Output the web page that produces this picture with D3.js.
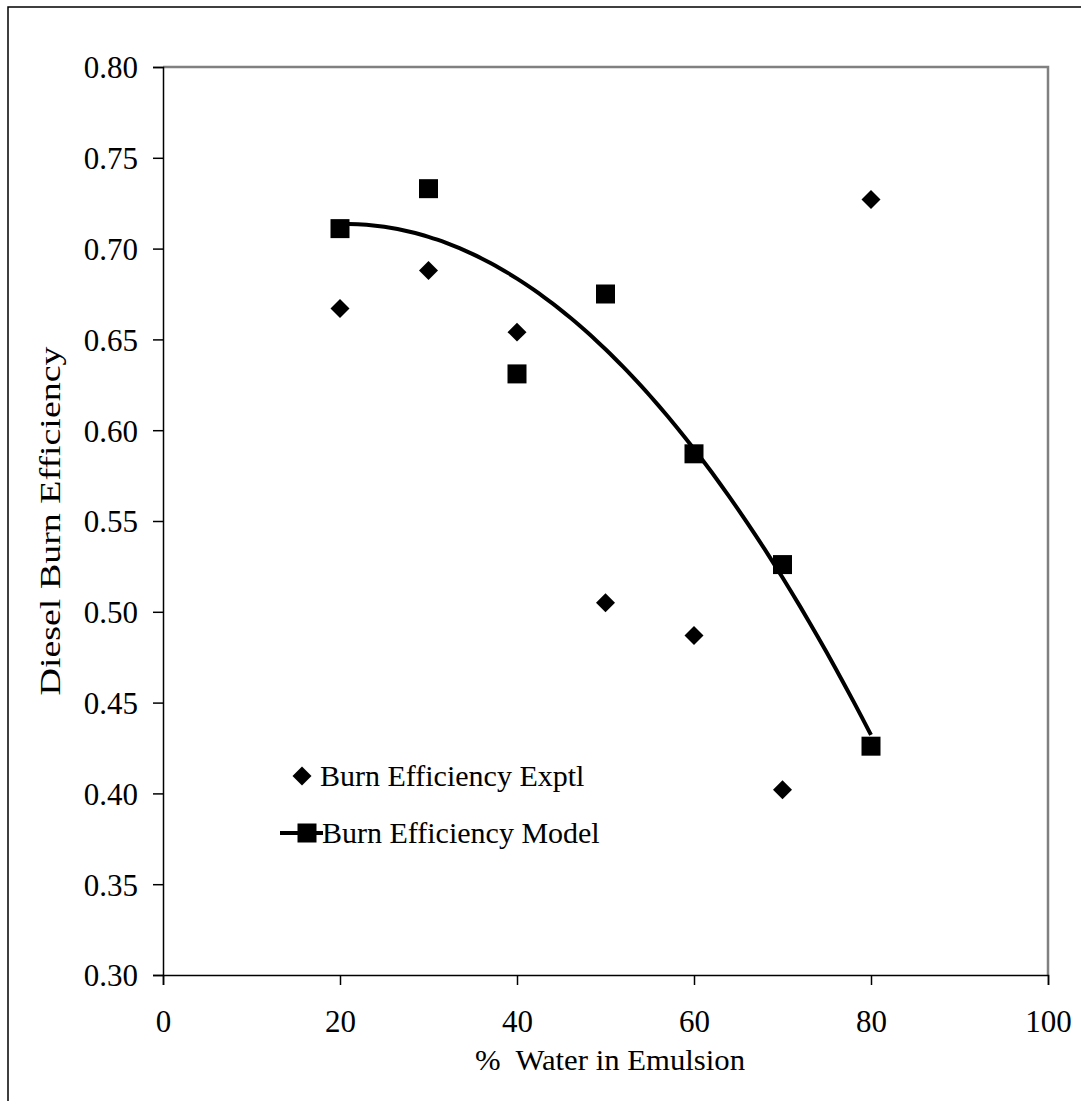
<!DOCTYPE html>
<html>
<head>
<meta charset="utf-8">
<script src="https://cdn.jsdelivr.net/npm/d3@7"></script>
<style>
  body { margin: 0; background: #fff; }
  text { font-family: "Liberation Serif", "Times New Roman", serif; fill: #000; }
</style>
</head>
<body>
<div id="chart"></div>
<script>
(function(){
    var width = 1081,
        height = 1101;

    // data
    var waterPct = [20, 30, 40, 50, 60, 70, 80];
    var exptl = [0.667, 0.688, 0.654, 0.505, 0.487, 0.402, 0.727];
    var model = [0.711, 0.733, 0.631, 0.675, 0.587, 0.526, 0.426];
    var xTicks = [0, 20, 40, 60, 80, 100];
    var yTicks = [0.30, 0.35, 0.40, 0.45, 0.50, 0.55, 0.60, 0.65, 0.70, 0.75, 0.80];
    var legendLabels = ["Burn Efficiency Exptl", "Burn Efficiency Model"];

    var left = 163, right = 1048, top = 67, bottom = 975;

    var svg = d3.select("#chart")
      .append("svg")
      .attr("width", width)
      .attr("height", height)

    // outer frame
    svg.append("rect")
      .attr("x", 8).attr("y", 7)
      .attr("width", 1090).attr("height", 1110)
      .attr("fill", "none")
      .attr("stroke", "#000")
      .attr("stroke-width", 1.5)

    var x = d3.scaleLinear().domain([0, 100]).range([left, right])
    var y = d3.scaleLinear().domain([0.30, 0.80]).range([bottom, top])

    // gray plot border (top + right)
    svg.append("path")
      .attr("d", "M" + left + "," + top + "H" + right + "V" + bottom)
      .attr("fill", "none")
      .attr("stroke", "#808080")
      .attr("stroke-width", 2.5)

    var yAxis = svg.append("g")
      .attr("transform", "translate(" + left + ",0)")
      .call(d3.axisLeft(y).tickValues(yTicks).tickSize(10).tickPadding(15).tickFormat(d3.format(".2f")))
    var xAxis = svg.append("g")
      .attr("transform", "translate(0," + bottom + ")")
      .call(d3.axisBottom(x).tickValues(xTicks).tickSize(10).tickPadding(25).tickFormat(d3.format("d")))

    svg.selectAll(".domain").attr("stroke", "#000").attr("stroke-width", 1.5)
    svg.selectAll(".tick line").attr("stroke", "#000").attr("stroke-width", 1.5)
    svg.selectAll(".tick text")
      .attr("font-family", "Liberation Serif")
      .attr("font-size", 31)
    yAxis.selectAll(".tick text").attr("dy", "0.35em")

    // axis titles
    svg.append("text")
      .attr("x", 610)
      .attr("y", 1070)
      .attr("text-anchor", "middle")
      .attr("font-size", 30)
      .attr("textLength", 270)
      .attr("lengthAdjust", "spacingAndGlyphs")
      .style("white-space", "pre")
      .text("%  Water in Emulsion")
    svg.append("text")
      .attr("transform", "translate(60," + (top + bottom) / 2 + ") rotate(-90)")
      .attr("text-anchor", "middle")
      .attr("font-size", 30)
      .attr("textLength", 349)
      .attr("lengthAdjust", "spacingAndGlyphs")
      .text("Diesel Burn Efficiency")

    // quadratic least-squares trendline through the model points
    function quadFit(xs, ys) {
      var n = xs.length, s = [0,0,0,0,0], t = [0,0,0]
      for (var i = 0; i < n; i++) {
        var p = 1
        for (var k = 0; k < 5; k++) { s[k] += p; if (k < 3) t[k] += p * ys[i]; p *= xs[i] }
      }
      var M = [[s[0], s[1], s[2], t[0]], [s[1], s[2], s[3], t[1]], [s[2], s[3], s[4], t[2]]]
      for (var c = 0; c < 3; c++) {
        for (var r = c + 1; r < 3; r++) {
          var f = M[r][c] / M[c][c]
          for (var j = c; j < 4; j++) M[r][j] -= f * M[c][j]
        }
      }
      var b = [0,0,0]
      for (var r2 = 2; r2 >= 0; r2--) {
        var v = M[r2][3]
        for (var j2 = r2 + 1; j2 < 3; j2++) v -= M[r2][j2] * b[j2]
        b[r2] = v / M[r2][r2]
      }
      return function(v){ return b[0] + b[1] * v + b[2] * v * v }
    }
    var fit = quadFit(waterPct, model)
    var curvePts = d3.range(waterPct[0], waterPct[waterPct.length - 1] + 0.01, 1)

    svg.append("path")
      .datum(curvePts)
      .attr("fill", "none")
      .attr("stroke", "#000")
      .attr("stroke-width", 4)
      .attr("d", d3.line()
        .x(function(d){ return x(d) })
        .y(function(d){ return y(fit(d)) })
        .curve(d3.curveBasis))

    var diamond = d3.symbol().type(d3.symbolSquare).size(180)
    var square = d3.symbol().type(d3.symbolSquare).size(361)

    svg.selectAll(".exptl")
      .data(waterPct)
      .enter().append("path")
      .attr("class", "exptl")
      .attr("d", diamond)
      .attr("fill", "#000")
      .attr("transform", function(d, i){
        return "translate(" + x(d) + "," + y(exptl[i]) + ") rotate(45)"
      })

    svg.selectAll(".model")
      .data(waterPct)
      .enter().append("path")
      .attr("class", "model")
      .attr("d", square)
      .attr("fill", "#000")
      .attr("transform", function(d, i){
        return "translate(" + x(d) + "," + y(model[i]) + ")"
      })

    // legend
    var lg = svg.append("g")
    lg.append("path")
      .attr("d", diamond)
      .attr("fill", "#000")
      .attr("transform", "translate(302,776) rotate(45)")
    lg.append("text")
      .attr("x", 320).attr("y", 786)
      .attr("font-size", 30)
      .text(legendLabels[0])
    lg.append("line")
      .attr("x1", 280).attr("x2", 323)
      .attr("y1", 833).attr("y2", 833)
      .attr("stroke", "#000").attr("stroke-width", 4)
    lg.append("path")
      .attr("d", square)
      .attr("fill", "#000")
      .attr("transform", "translate(307,833)")
    lg.append("text")
      .attr("x", 322).attr("y", 843)
      .attr("font-size", 30)
      .text(legendLabels[1])
})();
</script>
</body>
</html>
